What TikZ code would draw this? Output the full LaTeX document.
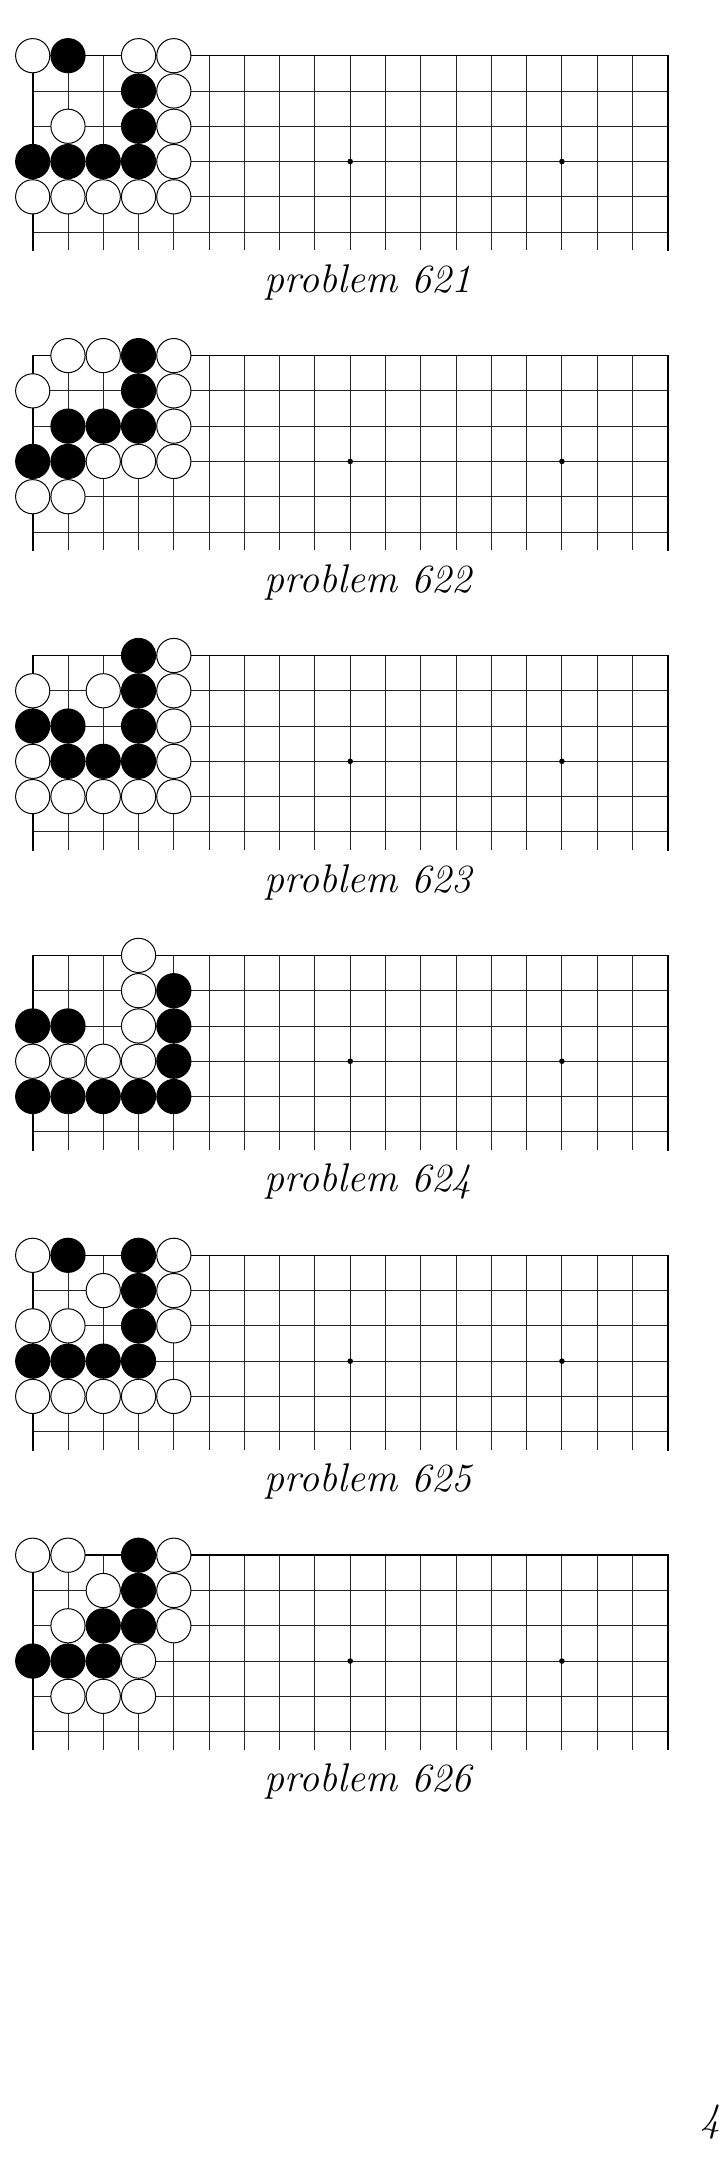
\documentclass[tikz,border=0pt]{standalone}
\tikzset{
  gridline/.style={line width=0.9pt, black!85},
  edgeline/.style={line width=1.6pt, black, line cap=rect},
  bstone/.style={fill=black},
  wstone/.style={fill=white, draw=black, line width=1pt},
  captext/.style={font=\fontsize{40}{48}\selectfont\itshape, inner sep=0pt},
}
\newcommand\goboard[5]{%
  \begin{scope}[shift={(32.7,#1)}]
    \foreach \i in {1,...,17} \draw[gridline] (\i*35.28,0) -- (\i*35.28,194.4);
    \foreach \j in {1,...,5} \draw[gridline] (0,\j*35.28) -- (635,\j*35.28);
    \draw[edgeline] (0,194.4) -- (0,0) -- (635,0) -- (635,194.4);
    \foreach \c in {3,9,15} \fill (\c*35.28,3*35.28) circle (2.8);
    \foreach \c/\r in {#2} \fill[bstone] (\c*35.28,\r*35.28) circle (17.6);
    \foreach \c/\r in {#3} \filldraw[wstone] (\c*35.28,\r*35.28) circle (17.1);
  \end{scope}
  \node[captext, anchor=base] (#5) at (368,#1+236.5) {#4};
}
\begin{document}
\begin{tikzpicture}[x=1pt,y=-1pt]
\useasboundingbox (0,0) rectangle (724,2181);
\goboard{55.7}{1/0,3/1,3/2,0/3,1/3,2/3,3/3}{0/0,3/0,4/0,4/1,1/2,4/2,4/3,0/4,1/4,2/4,3/4,4/4}{problem 621}{c1}
\goboard{355.6}{3/0,3/1,1/2,2/2,3/2,0/3,1/3}{1/0,2/0,4/0,0/1,4/1,4/2,2/3,3/3,4/3,0/4,1/4}{problem 622}{c2}
\goboard{655.5}{3/0,3/1,0/2,1/2,3/2,1/3,2/3,3/3}{4/0,0/1,2/1,4/1,4/2,0/3,4/3,0/4,1/4,2/4,3/4,4/4}{problem 623}{c3}
\goboard{955.4}{4/1,0/2,1/2,4/2,4/3,0/4,1/4,2/4,3/4,4/4}{3/0,3/1,3/2,0/3,1/3,2/3,3/3}{problem 624}{c4}
\goboard{1255.3}{1/0,3/0,3/1,3/2,0/3,1/3,2/3,3/3}{0/0,4/0,2/1,4/1,0/2,1/2,4/2,0/4,1/4,2/4,3/4,4/4}{problem 625}{c5}
\goboard{1555.2}{3/0,3/1,2/2,3/2,0/3,1/3,2/3}{0/0,1/0,4/0,2/1,4/1,1/2,4/2,3/3,1/4,2/4,3/4}{problem 626}{c6}
\node[captext, anchor=base west] (pg) at (700,2131) {4};
\end{tikzpicture}
\end{document}
